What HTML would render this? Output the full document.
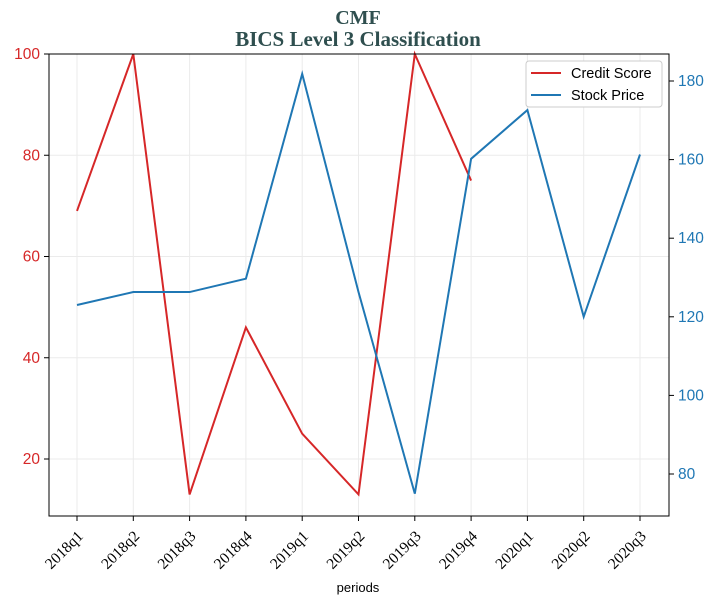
<!DOCTYPE html>
<html><head><meta charset="utf-8"><style>
body{margin:0;background:#fff;}
svg{display:block;font-family:"Liberation Sans",sans-serif;}
</style></head><body>
<svg id="chart" width="717" height="605">
<text x="358" y="24" text-anchor="middle" font-family="Liberation Serif" font-weight="bold" font-size="20" fill="#2f4f4f">CMF</text>
<text x="358" y="46" text-anchor="middle" font-family="Liberation Serif" font-weight="bold" font-size="21" fill="#2f4f4f">BICS Level 3 Classification</text>
<g id="grid"></g>
<g id="lines"></g>
<rect x="49" y="54" width="620" height="462" fill="none" stroke="#000" stroke-width="1"/>
<g id="axes"></g>
<text x="358" y="592" text-anchor="middle" font-size="13">periods</text>
<g>
<rect x="526" y="61" width="136" height="46" rx="3" fill="#fff" stroke="#ccc"/>
<line x1="531" y1="73" x2="561" y2="73" stroke="#d62728" stroke-width="2"/>
<text x="571" y="78" font-size="14.5">Credit Score</text>
<line x1="531" y1="95" x2="561" y2="95" stroke="#1f77b4" stroke-width="2"/>
<text x="571" y="100" font-size="14.5">Stock Price</text>
</g>
</svg>
<script>
const categories=["2018q1","2018q2","2018q3","2018q4","2019q1","2019q2","2019q3","2019q4","2020q1","2020q2","2020q3"];
const creditScore=[69,100,13,46,25,13,100,75];
const stockPrice=[123,126.3,126.3,129.7,181.8,126.3,75,160.2,172.6,120,161.3];
const leftTicks=[20,40,60,80,100];
const rightTicks=[80,100,120,140,160,180];
const NS="http://www.w3.org/2000/svg";
const x=i=>77+i*(640-77)/10;
const yL=v=>54+(100-v)*5.0625;
const yR=v=>81+(180-v)*3.93;
function mk(tag,attrs,parent,text){const e=document.createElementNS(NS,tag);for(const k in attrs)e.setAttribute(k,attrs[k]);if(text!==undefined)e.textContent=text;parent.appendChild(e);return e;}
const grid=document.getElementById('grid'),axes=document.getElementById('axes'),lines=document.getElementById('lines');
categories.forEach((c,i)=>{
 const g=mk('line',{x1:x(i),x2:x(i),y1:54,y2:516,stroke:'#ebebeb','stroke-width':1},grid);
 
 
 mk('line',{x1:x(i),x2:x(i),y1:516,y2:521,stroke:'#000'},axes);
 const tx=x(i)+7, ty=537;
 const t=mk('text',{x:tx,y:ty,'font-family':'Liberation Serif','font-size':15.5,'text-anchor':'end',transform:`rotate(-45 ${tx} ${ty})`},axes,c);
 
 
});
leftTicks.forEach(v=>{
 const g=mk('line',{x1:49,x2:669,y1:yL(v),y2:yL(v),stroke:'#ebebeb'},grid);
 
 
 mk('line',{x1:44,x2:49,y1:yL(v),y2:yL(v),stroke:'#000'},axes);
 const t=mk('text',{x:40,y:yL(v)+5,'text-anchor':'end','font-size':15.5,fill:'#d62728'},axes,v);
 
 
});
rightTicks.forEach(v=>{
 mk('line',{x1:669,x2:674,y1:yR(v),y2:yR(v),stroke:'#000'},axes);
 const t=mk('text',{x:678,y:yR(v)+5,'font-size':15.5,fill:'#1f77b4'},axes,v);
 
 
});
const p1=mk('polyline',{points:creditScore.map((v,i)=>x(i)+','+yL(v)).join(' '),fill:'none',stroke:'#d62728','stroke-width':2},lines);


const p2=mk('polyline',{points:stockPrice.map((v,i)=>x(i)+','+yR(v)).join(' '),fill:'none',stroke:'#1f77b4','stroke-width':2},lines);


</script>
</body></html>
